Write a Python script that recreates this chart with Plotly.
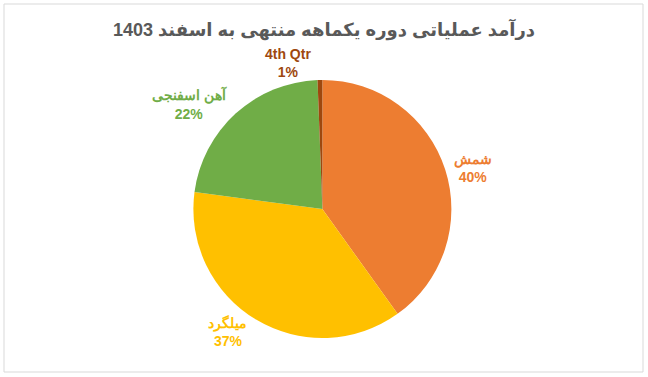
import plotly.graph_objects as go

title_text = "درآمد عملیاتی دوره یکماهه منتهی به اسفند 1403"
categories = ["شمش", "میلگرد", "آهن اسفنجی", "4th Qtr"]
values = [40.1, 37.0, 22.3, 0.6]
colors = ["#ED7D31", "#FFC000", "#70AD47", "#9E480E"]

W, H = 648, 377

fig = go.Figure(go.Pie(
    labels=categories,
    values=values,
    sort=False,
    direction="clockwise",
    rotation=0,
    marker=dict(colors=colors, line=dict(width=0)),
    textposition="outside",
    texttemplate="<b>%{label}</b><br><b>%{percent:.0%}</b>",
    outsidetextfont=dict(color=colors, size=14, family="Liberation Sans"),
    domain=dict(x=[0.2, 0.795], y=[(H - 338) / H, (H - 80) / H]),
    showlegend=False,
    hoverinfo="label+percent",
))

fig.update_layout(
    width=W, height=H,
    margin=dict(l=0, r=0, t=0, b=0),
    paper_bgcolor="white",
    plot_bgcolor="white",
    title=dict(
        text="<b>" + title_text + "</b>",
        x=0.5, xanchor="center",
        y=1 - 30 / H, yanchor="middle",
        font=dict(family="Liberation Sans, DejaVu Sans", size=18, color="#595959"),
    ),
    shapes=[dict(
        type="rect", xref="paper", yref="paper",
        x0=4 / W, x1=643 / W, y0=1 - 372 / H, y1=1 - 4 / H,
        line=dict(color="#D9D9D9", width=1), fillcolor="rgba(0,0,0,0)",
        layer="below",
    )],
)

fig.write_html("out.html")
